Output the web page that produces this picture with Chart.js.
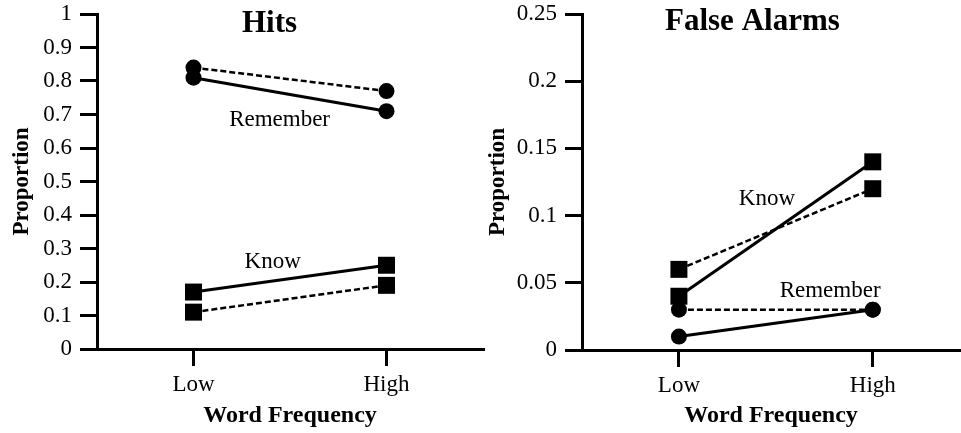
<!DOCTYPE html>
<html>
<head>
<meta charset="utf-8">
<script src="https://cdn.jsdelivr.net/npm/chart.js@4"></script>
<style>
    body { margin: 0; background: #fff; }
    #hitsBox { position: absolute; left: 0; top: 0; width: 490px; height: 433px; }
    #faBox { position: absolute; left: 480px; top: 0; width: 481px; height: 433px; }
</style>
</head>
<body>
<div id="hitsBox"><canvas id="hitsChart"></canvas></div>
<div id="faBox"><canvas id="faChart"></canvas></div>
<script>
const categorias = ['Low', 'High'];

// Hits
const hitsRememberSolid = [0.81, 0.71];
const hitsRememberDashed = [0.84, 0.77];
const hitsKnowSolid = [0.17, 0.25];
const hitsKnowDashed = [0.11, 0.19];

// False Alarms
const faKnowSolid = [0.04, 0.14];
const faKnowDashed = [0.06, 0.12];
const faRememberSolid = [0.01, 0.03];
const faRememberDashed = [0.03, 0.03];

const hitsTicks = ['0', '0.1', '0.2', '0.3', '0.4', '0.5', '0.6', '0.7', '0.8', '0.9', '1'];
const faTicks = ['0', '0.05', '0.1', '0.15', '0.2', '0.25'];

Chart.defaults.font.family = "'Liberation Serif', 'Times New Roman', serif";
Chart.defaults.color = '#000';

const rotulosPlugin = {
    id: 'rotulos',
    afterDatasetsDraw(chart, args, opts) {
        const ctx = chart.ctx;
        const x = chart.scales.x;
        const y = chart.scales.y;
        ctx.save();
        ctx.fillStyle = '#000';
        ctx.textAlign = 'center';
        ctx.textBaseline = 'alphabetic';
        opts.textos.forEach(t => {
            ctx.font = t.font;
            ctx.fillText(t.texto, x.getPixelForValue(t.x), y.getPixelForValue(t.y));
        });
        ctx.restore();
    }
};

function serie(valores, solida, forma) {
    return {
        data: valores.map((v, i) => ({ x: i, y: v })),
        borderColor: '#000',
        backgroundColor: '#000',
        borderWidth: solida ? 3 : 2.5,
        borderDash: solida ? [] : [6, 3],
        pointStyle: forma,
        pointRadius: forma === 'rect' ? 12 : 8,
        pointBackgroundColor: '#000',
        pointBorderWidth: 0,
        tension: 0,
        clip: false
    };
}

function opcoes(ticksY, xMax, larguraY, alturaX, padTituloY, padDireita, textos) {
    return {
        responsive: true,
        maintainAspectRatio: false,
        animation: false,
        layout: { autoPadding: false, padding: { top: 14, right: padDireita, bottom: 0, left: 0 } },
        plugins: {
            legend: { display: false },
            tooltip: { enabled: false },
            rotulos: { textos: textos }
        },
        scales: {
            x: {
                type: 'linear',
                min: -0.5,
                max: xMax,
                afterBuildTicks: s => { s.ticks = categorias.map((c, i) => ({ value: i })); },
                afterFit: s => { s.height = alturaX; },
                ticks: {
                    callback: (v, i) => categorias[i],
                    font: { size: 23 },
                    padding: 5,
                    maxRotation: 0
                },
                grid: { drawOnChartArea: false, tickLength: 17, color: '#000', lineWidth: 3 },
                border: { color: '#000', width: 3 },
                title: {
                    display: true,
                    text: 'Word Frequency',
                    font: { size: 24, weight: 'bold' },
                    padding: { top: 0, bottom: 3 }
                }
            },
            y: {
                min: 0,
                max: Number(ticksY[ticksY.length - 1]),
                afterBuildTicks: s => { s.ticks = ticksY.map(t => ({ value: Number(t) })); },
                afterFit: s => {
                    s.width = larguraY;
                    s.paddingTop = 0;
                    s.paddingBottom = 0;
                },
                ticks: {
                    callback: (v, i) => ticksY[i],
                    font: { size: 23 },
                    padding: 8
                },
                grid: { drawOnChartArea: false, tickLength: 17, color: '#000', lineWidth: 3 },
                border: { color: '#000', width: 3 },
                title: {
                    display: true,
                    text: 'Proportion',
                    font: { size: 23, weight: 'bold' },
                    padding: { top: padTituloY, bottom: 0 }
                }
            }
        }
    };
}

new Chart(document.getElementById('hitsChart'), {
    type: 'line',
    data: {
        datasets: [
            serie(hitsRememberDashed, false, 'circle'),
            serie(hitsRememberSolid, true, 'circle'),
            serie(hitsKnowDashed, false, 'rect'),
            serie(hitsKnowSolid, true, 'rect')
        ]
    },
    options: opcoes(hitsTicks, 1.5, 97, 84, 8, 7, [
        { texto: 'Hits', x: 0.394, y: 0.946, font: 'bold 31px "Liberation Serif"' },
        { texto: 'Remember', x: 0.446, y: 0.666, font: '23px "Liberation Serif"' },
        { texto: 'Know', x: 0.41, y: 0.242, font: '23px "Liberation Serif"' }
    ]),
    plugins: [rotulosPlugin]
});

new Chart(document.getElementById('faChart'), {
    type: 'line',
    data: {
        datasets: [
            serie(faKnowDashed, false, 'rect'),
            serie(faKnowSolid, true, 'rect'),
            serie(faRememberDashed, false, 'circle'),
            serie(faRememberSolid, true, 'circle')
        ]
    },
    options: opcoes(faTicks, 1.45, 102, 83, 4, 1, [
        { texto: 'False Alarms', x: 0.379, y: 0.238, font: 'bold 31px "Liberation Serif"' },
        { texto: 'Know', x: 0.454, y: 0.108, font: '23px "Liberation Serif"' },
        { texto: 'Remember', x: 0.78, y: 0.0394, font: '23px "Liberation Serif"' }
    ]),
    plugins: [rotulosPlugin]
});
</script>
</body>
</html>
